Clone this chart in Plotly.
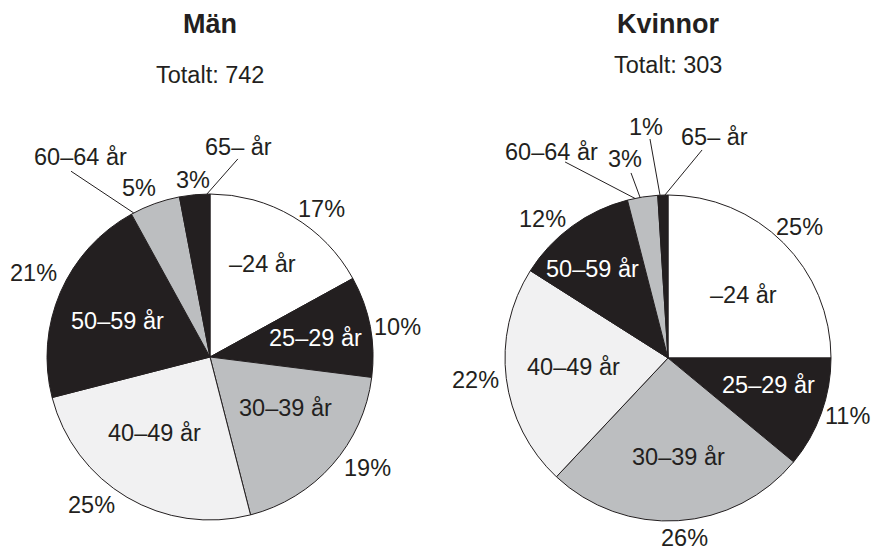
import math
import plotly.graph_objects as go

# ---------------- data ----------------
categories = ["–24 år", "25–29 år", "30–39 år", "40–49 år", "50–59 år", "60–64 år", "65– år"]
men_pct = [17, 10, 19, 25, 21, 5, 3]
women_pct = [25, 11, 26, 22, 12, 3, 1]
men_total = 742
women_total = 303
titles = ["Män", "Kvinnor"]

# ---------------- style / layout ----------------
W, H = 874, 552
FONT = "Liberation Sans, Arial, sans-serif"
INK = "#231f20"
LABEL_SIZE = 23.5
TITLE_SIZE = 27
slice_colors = ["#ffffff", INK, "#bcbec0", "#f1f1f2", INK, "#bcbec0", INK]
label_colors = [INK, "#ffffff", INK, INK, "#ffffff", INK, INK]

# label placement: (angle clockwise from 12 o'clock in degrees, distance from centre in px)
pie_specs = [
    dict(values=men_pct, total=men_total, title=titles[0], cx=210, cy=357, r=163, title_y=24, sub_y=75,
         cat_pos=[(29.2, 106.6), (79.8, 107.7), (123.9, 91.5), (215.9, 93.8), (291.2, 99.7),
                  (327.0, 238.5), (7.6, 211.9)],
         pct_pos=[(37.1, 185.6), (80.9, 189.4), (125.1, 193.1), (218.6, 189.3), (295.4, 195.9),
                  (337.2, 183.3), (354.5, 177.8)],
         # leader lines: (slice index, fraction along slice, start angle, start radius)
         leaders=[(5, 0.05, 323.2, 232), (6, 0.9, 8.0, 200)]),
    dict(values=women_pct, total=women_total, title=titles[1], cx=668, cy=358, r=163, title_y=24, sub_y=65,
         cat_pos=[(50.3, 98.7), (105.1, 103.6), (173.7, 99.6), (264.6, 95.4), (319.5, 117.0),
                  (330.6, 236.4), (11.8, 225.7)],
         pct_pos=[(45.0, 185.3), (107.9, 189.1), (174.9, 180.7), (263.5, 193.3), (318.0, 186.9),
                  (347.8, 203.6), (354.6, 232.0)],
         leaders=[(5, 0.25, 332.3, 221.4), (5, 0.42, 348.7, 188.7), (6, 0.22, 355.3, 219.7),
                  (6, 0.7, 9.3, 210.8)]),
]


def px_to_paper(x, y):
    return x / W, 1 - y / H


def polar(cx, cy, ang, rad):
    a = math.radians(ang)
    return cx + rad * math.sin(a), cy - rad * math.cos(a)


fig = go.Figure()
annotations = []
shapes = []

for spec in pie_specs:
    cx, cy, r = spec["cx"], spec["cy"], spec["r"]
    vals = spec["values"]
    fig.add_trace(go.Pie(
        labels=categories, values=vals, sort=False, direction="clockwise", rotation=0,
        marker=dict(colors=slice_colors, line=dict(color=INK, width=1)),
        textinfo="none", hoverinfo="skip", showlegend=False,
        domain=dict(x=[(cx - r) / W, (cx + r) / W], y=[1 - (cy + r) / H, 1 - (cy - r) / H]),
    ))

    # titles
    tx, ty = px_to_paper(cx, spec["title_y"])
    annotations.append(dict(x=tx, y=ty, xref="paper", yref="paper", showarrow=False,
                            text="<b>%s</b>" % spec["title"],
                            font=dict(family=FONT, size=TITLE_SIZE, color=INK), xanchor="center", yanchor="middle"))
    sx, sy = px_to_paper(cx, spec["sub_y"])
    annotations.append(dict(x=sx, y=sy, xref="paper", yref="paper", showarrow=False,
                            text="Totalt: %d" % spec["total"],
                            font=dict(family=FONT, size=LABEL_SIZE, color=INK), xanchor="center", yanchor="middle"))

    # category and percent labels
    for i, cat in enumerate(categories):
        ang, rad = spec["cat_pos"][i]
        lx, ly = px_to_paper(*polar(cx, cy, ang, rad))
        annotations.append(dict(x=lx, y=ly, xref="paper", yref="paper", showarrow=False, text=cat,
                                font=dict(family=FONT, size=LABEL_SIZE, color=label_colors[i]),
                                xanchor="center", yanchor="middle"))
        ang, rad = spec["pct_pos"][i]
        lx, ly = px_to_paper(*polar(cx, cy, ang, rad))
        annotations.append(dict(x=lx, y=ly, xref="paper", yref="paper", showarrow=False,
                                text="%d%%" % vals[i],
                                font=dict(family=FONT, size=LABEL_SIZE, color=INK),
                                xanchor="center", yanchor="middle"))

    # leader lines to small slices
    total = sum(vals)
    cum = [sum(vals[:k]) for k in range(len(vals))]
    for idx, frac, sang, srad in spec["leaders"]:
        end_ang = (cum[idx] + frac * vals[idx]) / total * 360.0
        x0, y0 = px_to_paper(*polar(cx, cy, sang, srad))
        x1, y1 = px_to_paper(*polar(cx, cy, end_ang, r))
        shapes.append(dict(type="line", xref="paper", yref="paper", x0=x0, y0=y0, x1=x1, y1=y1,
                           line=dict(color=INK, width=1)))

fig.update_layout(
    width=W, height=H, autosize=False,
    margin=dict(l=0, r=0, t=0, b=0),
    paper_bgcolor="white", plot_bgcolor="white",
    annotations=annotations, shapes=shapes,
    font=dict(family=FONT, color=INK),
)

fig.write_html("out.html", config={"displayModeBar": False},
               post_script="document.body.style.margin='0px';document.body.style.padding='0px';")
